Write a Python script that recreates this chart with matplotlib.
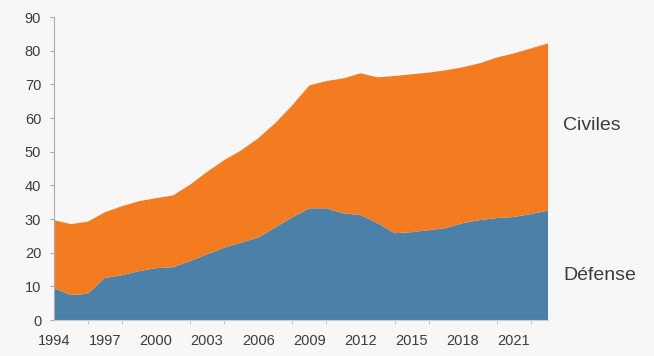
import matplotlib
matplotlib.use("Agg")
import matplotlib.pyplot as plt
import numpy as np

years = list(range(1994, 2024))
defense = [9.5, 7.4, 7.8, 12.5, 13.3, 14.5, 15.4, 15.7, 17.5, 19.5,
           21.5, 23.0, 24.5, 27.5, 30.5, 33.2, 33.2, 31.7, 31.2, 28.8,
           25.8, 26.1, 26.7, 27.3, 28.8, 29.7, 30.3, 30.6, 31.5, 32.5]
civiles = [20.2, 21.1, 21.4, 19.5, 20.5, 20.8, 20.8, 21.3, 22.7, 24.5,
           26.0, 27.4, 29.5, 31.0, 33.3, 36.5, 37.8, 40.1, 42.1, 43.3,
           46.7, 46.9, 46.8, 46.9, 46.3, 46.6, 47.7, 48.6, 49.2, 49.7]
series_labels = ["Défense", "Civiles"]
yticks = [0, 10, 20, 30, 40, 50, 60, 70, 80, 90]
xlabels = [1994, 1997, 2000, 2003, 2006, 2009, 2012, 2015, 2018, 2021]

plt.rcParams['font.family'] = ['Liberation Sans', 'DejaVu Sans']

bg = "#f7f7f7"
fig = plt.figure(figsize=(6.54, 3.56), dpi=100, facecolor=bg)
ax = fig.add_axes([0.082, 0.101, 0.756, 0.851], facecolor=bg)

ax.stackplot(years, defense, civiles, colors=["#4b80a9", "#f47c20"], linewidth=0)

ax.set_xlim(1994, 2023)
ax.set_ylim(0, 90)
ax.set_yticks(yticks)
ax.set_yticklabels([str(v) for v in yticks], fontsize=10.5, color="#3c3c3c")
ax.set_xticks(xlabels)
ax.set_xticklabels([str(v) for v in xlabels], fontsize=10.5, color="#3c3c3c")
ax.set_xticks(list(range(1994, 2024, 2)), minor=True)
ax.tick_params(axis='x', which='major', length=0, pad=10)
ax.tick_params(axis='x', which='minor', length=3, color="#bbbbbb")
ax.tick_params(axis='y', length=3, color="#aaaaaa", pad=6)

for s in ["top", "right"]:
    ax.spines[s].set_visible(False)
ax.spines["left"].set_color("#aaaaaa")
ax.spines["bottom"].set_color("#cccccc")

# series labels on the right
x_lab = 563 / 654
fig.text(x_lab, 1 - 126 / 356, series_labels[1], fontsize=14,
         color="#3c3c3c", ha="left", va="center")
fig.text(x_lab, 1 - 275 / 356, series_labels[0], fontsize=14,
         color="#3c3c3c", ha="left", va="center")

fig.savefig("out.png", dpi=100, facecolor=bg)
